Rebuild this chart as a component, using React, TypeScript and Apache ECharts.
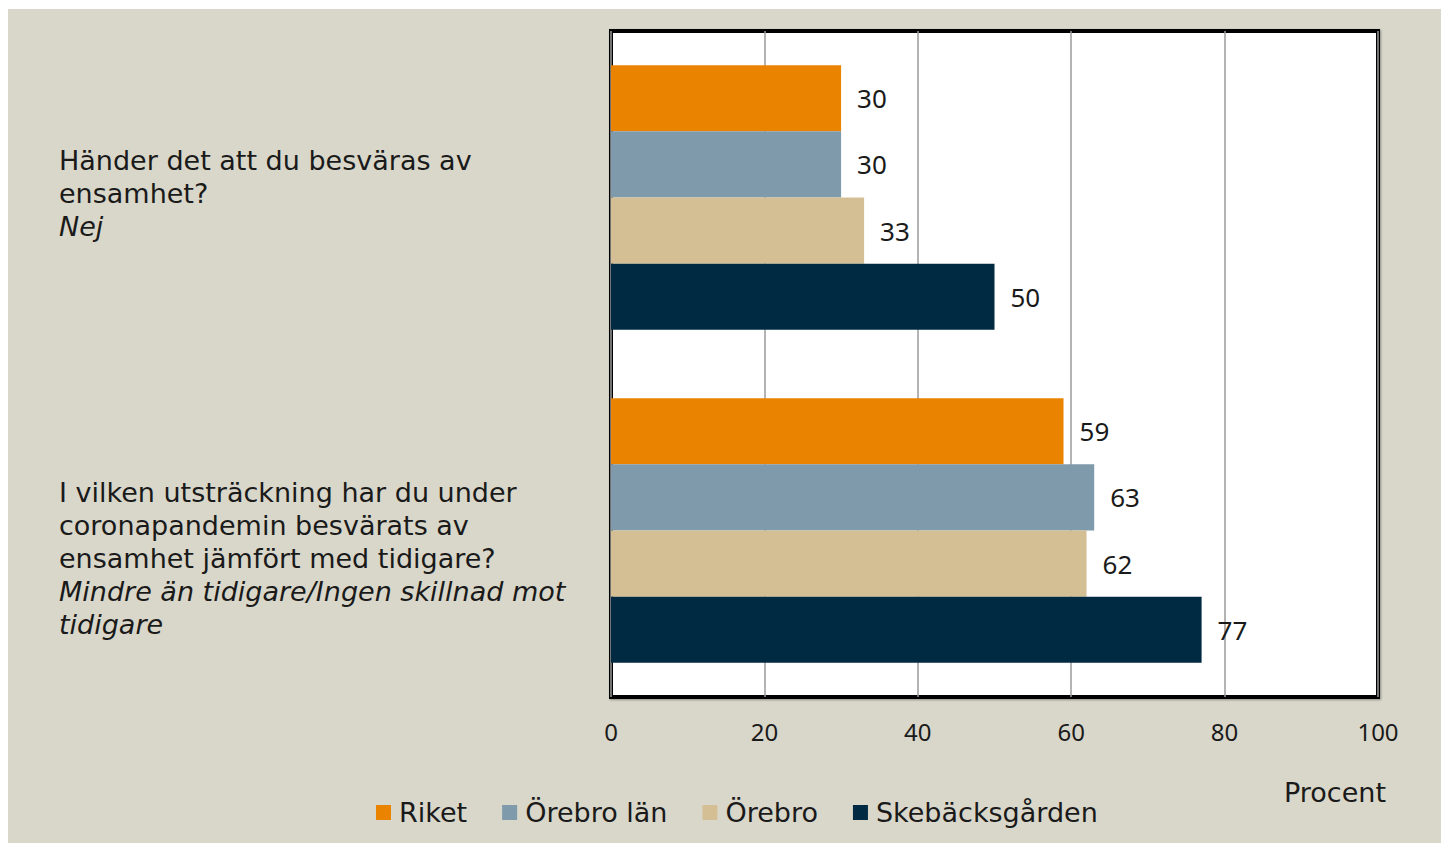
import React, { useEffect, useRef } from "react";
import * as echarts from "echarts";

const categories = [
  "Händer det att du besväras av ensamhet? Nej",
  "I vilken utsträckning har du under coronapandemin besvärats av ensamhet jämfört med tidigare? Mindre än tidigare/Ingen skillnad mot tidigare",
];
const questionLines1 = ["Händer det att du besväras av", "ensamhet?"];
const answerLines1 = ["Nej"];
const questionLines2 = ["I vilken utsträckning har du under", "coronapandemin besvärats av", "ensamhet jämfört med tidigare?"];
const answerLines2 = ["Mindre än tidigare/Ingen skillnad mot", "tidigare"];

const seriesNames = ["Riket", "Örebro län", "Örebro", "Skebäcksgården"];
const riket = [30, 59];
const orebroLan = [30, 63];
const orebro = [33, 62];
const skebacksgarden = [50, 77];
const seriesValues = [riket, orebroLan, orebro, skebacksgarden];
const colors = ["#E98300", "#7F9BAB", "#D4BF95", "#002A42"];
const xTicks = [0, 20, 40, 60, 80, 100];
const unitLabel = "Procent";

const FONT = "DejaVu Sans";
const NUMFONT = "Noto Sans";

export default function App() {
  const ref = useRef<HTMLDivElement>(null);
  useEffect(() => {
    if (!ref.current) return;
    const chart = echarts.init(ref.current, undefined, { renderer: "svg" });

    const textEls: any[] = [];
    const addLines = (lines: string[], startY: number, italic: boolean) => {
      lines.forEach((l, i) => {
        textEls.push({
          type: "text",
          left: 51,
          top: startY + i * 33 - 14,
          style: {
            text: l,
            fontFamily: FONT,
            fontSize: 27,
            fontStyle: italic ? "italic" : "normal",
            fill: "#1a1a1a",
          },
        });
      });
    };
    addLines(questionLines1, 152, false);
    addLines(answerLines1, 152 + questionLines1.length * 33, true);
    addLines(questionLines2, 484, false);
    addLines(answerLines2, 484 + questionLines2.length * 33, true);
    textEls.push({
      type: "text",
      left: 1276,
      top: 770,
      style: { text: unitLabel, fontFamily: FONT, fontSize: 27, fill: "#1a1a1a" },
    });

    chart.setOption({
      animation: false,
      backgroundColor: "#D9D7CA",
      textStyle: { fontFamily: FONT },
      grid: {
        left: 603,
        top: 22,
        width: 767,
        height: 666,
        show: true,
        backgroundColor: "#ffffff",
        borderColor: "#000000",
        borderWidth: 4,
        shadowColor: "rgba(0,0,0,0.35)",
        shadowBlur: 2,
        shadowOffsetX: 1,
        shadowOffsetY: 1,
      },
      legend: {
        data: seriesNames,
        left: 363,
        top: 785,
        itemWidth: 15,
        itemHeight: 15,
        itemGap: 35,
        icon: "rect",
        textStyle: { fontFamily: FONT, fontSize: 27, color: "#1a1a1a", padding: [0, 0, 0, 3] },
      },
      xAxis: {
        type: "value",
        min: 0,
        max: 100,
        interval: 20,
        axisLine: { show: false },
        axisTick: { show: false },
        splitLine: { show: true, lineStyle: { color: "#9a9a9a", width: 1.5 } },
        axisLabel: {
          margin: 22,
          fontFamily: NUMFONT,
          fontSize: 24,
          color: "#1a1a1a",
          formatter: (v: number) => (xTicks.includes(v) ? String(v) : ""),
        },
      },
      yAxis: {
        type: "category",
        data: categories,
        inverse: true,
        axisLine: { show: false },
        axisTick: { show: false },
        axisLabel: { show: false },
      },
      series: seriesNames.map((name, i) => ({
        name,
        type: "bar",
        data: seriesValues[i],
        barGap: "0%",
        barCategoryGap: "20.5%",
        itemStyle: { color: colors[i] },
        label: {
          show: true,
          position: "right",
          distance: 16,
          fontFamily: NUMFONT,
          fontSize: 26,
          color: "#1a1a1a",
        },
      })),
      graphic: textEls,
    });
    return () => chart.dispose();
  }, []);
  return (
    <div
      ref={ref}
      style={{ position: "fixed", left: 8, top: 9, width: 1433, height: 834 }}
    />
  );
}
